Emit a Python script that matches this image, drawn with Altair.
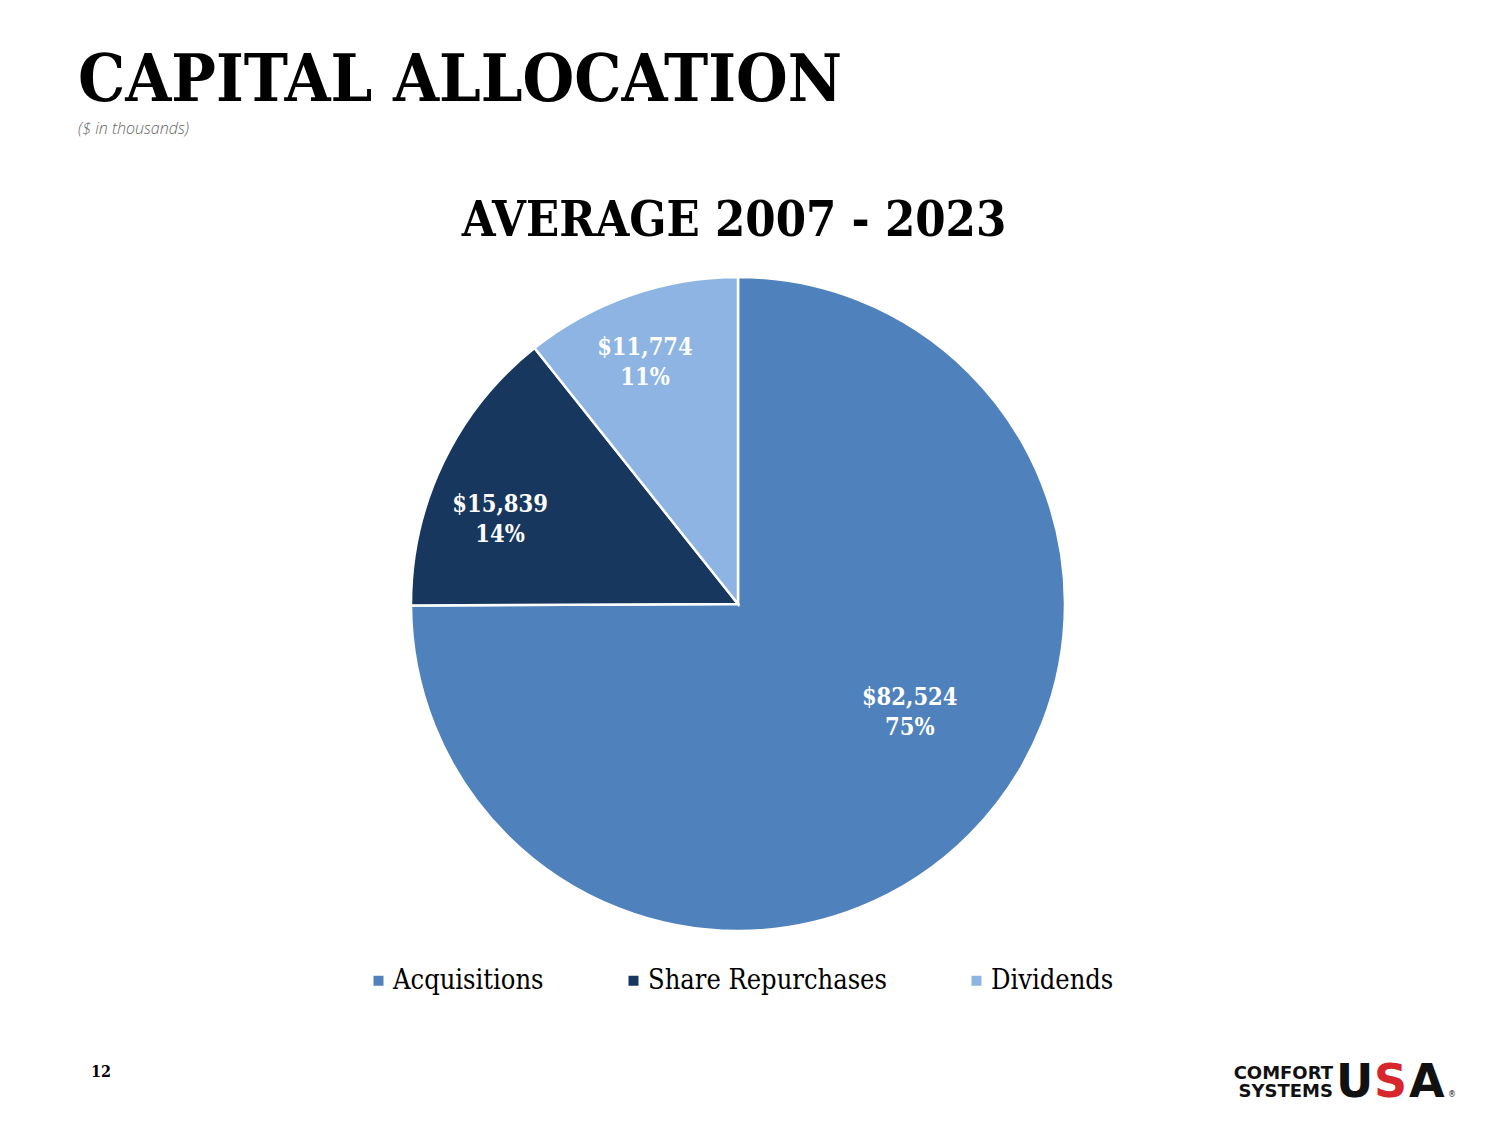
import altair as alt
import pandas as pd

categories = ["Acquisitions", "Share Repurchases", "Dividends"]
values = [82524, 15839, 11774]
colors = ["#4F81BD", "#17375E", "#8DB4E2"]

total = sum(values)
labels = [f"${v:,}\n{round(v / total * 100)}%" for v in values]

df = pd.DataFrame({"cat": categories, "val": values, "idx": [0, 1, 2], "label": labels})

SERIF = "DejaVu Serif Condensed, DejaVu Serif"
CX, CY = 730, 596

base = alt.Chart(df).encode(
    theta=alt.Theta("val:Q", stack=True),
    order=alt.Order("idx:O"),
)

pie = base.mark_arc(radius=327, stroke="white", strokeWidth=2.5).encode(
    x=alt.value(CX), y=alt.value(CY),
    color=alt.Color(
        "cat:N",
        scale=alt.Scale(domain=categories, range=colors),
        sort=None,
        legend=alt.Legend(
            orient="none", legendX=357, legendY=959, direction="horizontal",
            columns=3, title=None, symbolType="square", symbolSize=100,
            symbolStrokeWidth=0, symbolOpacity=1, labelFontSize=27,
            labelFont=SERIF, labelColor="black", labelOffset=1,
            columnPadding=76, labelLimit=400,
        ),
    ),
)

text_style = dict(radius=255, font=SERIF, fontSize=23.5, fontWeight="bold",
                  color="white", lineBreak="\n", lineHeight=30, baseline="middle")

# per-slice label nudges (dx, dy)
nudges = {"Acquisitions": (-9, -86), "Share Repurchases": (-8, 11), "Dividends": (-9, -15)}

label_layers = []
for c in categories:
    ddx, ddy = nudges[c]
    label_layers.append(
        base.mark_text(dx=ddx, dy=ddy, **text_style).encode(
            x=alt.value(CX), y=alt.value(CY),
            text=alt.condition(alt.datum.cat == c, alt.Text("label:N"), alt.value("")),
        )
    )


def note(txt, x, y, **kw):
    return alt.Chart(pd.DataFrame({"t": [txt]})).mark_text(**kw).encode(
        text="t:N", x=alt.value(x), y=alt.value(y)
    )


title = note("CAPITAL ALLOCATION", 70, 93, font=SERIF, fontSize=66, fontWeight="bold",
             align="left", baseline="alphabetic", color="black")
subtitle = note("($ in thousands)", 70, 126, font="Open Sans", fontSize=16, fontWeight=300,
                fontStyle="italic", align="left", baseline="alphabetic", color="#666666")
ctitle = note("AVERAGE 2007 - 2023", 726, 228, font=SERIF, fontSize=48.5, fontWeight="bold",
              align="center", baseline="alphabetic", color="black")
page = note("12", 83, 1069, font=SERIF, fontSize=16, fontWeight="bold",
            align="left", baseline="alphabetic", color="black")
logo1 = note("COMFORT\nSYSTEMS", 1325, 1071, font="DejaVu Sans", fontSize=18, fontWeight="bold",
             align="right", baseline="alphabetic", color="#111111", lineBreak="\n", lineHeight=18)
logoU = note("U", 1328, 1089, font="DejaVu Sans", fontSize=46, fontWeight="bold",
             align="left", baseline="alphabetic", color="#111111")
logoS = note("S", 1366, 1089, font="DejaVu Sans", fontSize=46, fontWeight="bold",
             align="left", baseline="alphabetic", color="#D7262C")
logoA = note("A", 1401, 1089, font="DejaVu Sans", fontSize=46, fontWeight="bold",
             align="left", baseline="alphabetic", color="#111111")
logoR = note("®", 1440, 1089, font="DejaVu Sans", fontSize=8,
             align="left", baseline="alphabetic", color="#111111")

chart = alt.layer(
    pie, *label_layers, title, subtitle, ctitle, page,
    logo1, logoU, logoS, logoA, logoR,
).properties(
    width=1484, height=1109, autosize=alt.AutoSizeParams(type="none"), padding=0,
    background="white",
).configure_view(stroke=None)

chart.save("out.html", embed_options={"renderer": "svg", "actions": False})
